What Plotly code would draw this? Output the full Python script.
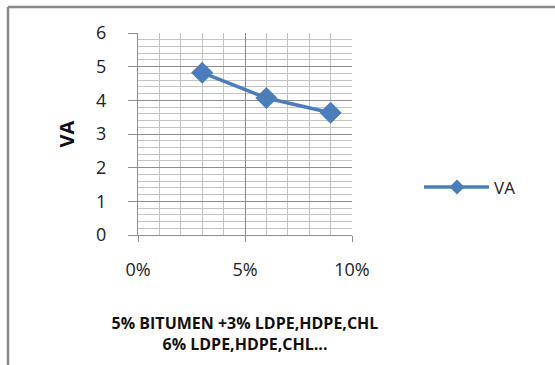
import plotly.graph_objects as go

x_vals = [0.03, 0.06, 0.09]
va_vals = [4.82, 4.07, 3.63]
series_name = "VA"
x_title = "5% BITUMEN +3% LDPE,HDPE,CHL<br>6% LDPE,HDPE,CHL..."
y_title = "VA"

W, H = 555, 365
L, R, T, B = 138, 203, 33, 130
pw, ph = W - L - R, H - T - B

def px_x(p):
    return (p - L) / pw

def px_y(p):
    return (H - B - p) / ph

font_family = "Open Sans, DejaVu Sans, sans-serif"
blue = "#4a7ebb"

fig = go.Figure()
fig.add_trace(go.Scatter(
    x=x_vals, y=va_vals, name=series_name, mode="lines+markers",
    line=dict(color=blue, width=3.5),
    marker=dict(symbol="diamond", size=17, color=blue),
    showlegend=False,
))

fig.update_layout(
    width=W, height=H,
    margin=dict(l=L, r=R, t=T, b=B),
    paper_bgcolor="white", plot_bgcolor="white",
    font=dict(family=font_family, color="#222222"),
    showlegend=False,
    xaxis=dict(
        range=[0, 0.1], tickvals=[0, 0.05, 0.1], tickformat=".0%",
        showgrid=True, gridcolor="#8c8c8c", gridwidth=1,
        minor=dict(dtick=0.01, showgrid=True, gridcolor="#c4c4c4", gridwidth=1, ticks=""),
        showline=True, linecolor="#8c8c8c", linewidth=1,
        ticks="outside", ticklen=6, tickcolor="#8c8c8c",
        tickfont=dict(size=18, color="#222222"), ticklabelstandoff=12,
        zeroline=False,
        title=dict(text=f"<b>{x_title}</b>", font=dict(size=16, color="#111111"), standoff=38),
        automargin=False,
    ),
    yaxis=dict(
        range=[0, 6], dtick=1,
        showgrid=True, gridcolor="#8c8c8c", gridwidth=1,
        minor=dict(dtick=0.2, showgrid=True, gridcolor="#c4c4c4", gridwidth=1, ticks=""),
        showline=True, linecolor="#8c8c8c", linewidth=1,
        ticks="outside", ticklen=9, tickcolor="#8c8c8c",
        tickfont=dict(size=18, color="#222222"), ticklabelstandoff=18,
        zeroline=False,
        title=dict(text=f"<b>{y_title}</b>", font=dict(size=20, color="#111111"), standoff=16),
        automargin=False,
    ),
)

# legend (drawn manually to get Excel-like long line sample)
ly = 187
fig.add_shape(type="line", xref="paper", yref="paper",
              x0=px_x(424), x1=px_x(489), y0=px_y(ly), y1=px_y(ly),
              line=dict(color=blue, width=3.5))
cx, r = 457, 7.5
path = (f"M {px_x(cx - r)} {px_y(ly)} L {px_x(cx)} {px_y(ly - r)} "
        f"L {px_x(cx + r)} {px_y(ly)} L {px_x(cx)} {px_y(ly + r)} Z")
fig.add_shape(type="path", xref="paper", yref="paper", path=path,
              fillcolor=blue, line=dict(color=blue, width=0))
fig.add_annotation(xref="paper", yref="paper", x=px_x(492), y=px_y(ly),
                   xanchor="left", yanchor="middle", showarrow=False,
                   text=series_name, font=dict(size=17, color="#222222"))

# outer chart-area border (extends off the right and bottom of the image)
fig.add_shape(type="line", xref="paper", yref="paper",
              x0=px_x(8), x1=px_x(570), y0=px_y(7), y1=px_y(7),
              line=dict(color="#888888", width=2.5))
fig.add_shape(type="line", xref="paper", yref="paper",
              x0=px_x(8), x1=px_x(8), y0=px_y(7), y1=px_y(380),
              line=dict(color="#888888", width=2.5))

fig.write_html("out.html", config={"displayModeBar": False},
               post_script="document.body.style.margin='0';document.body.style.overflow='hidden';")
